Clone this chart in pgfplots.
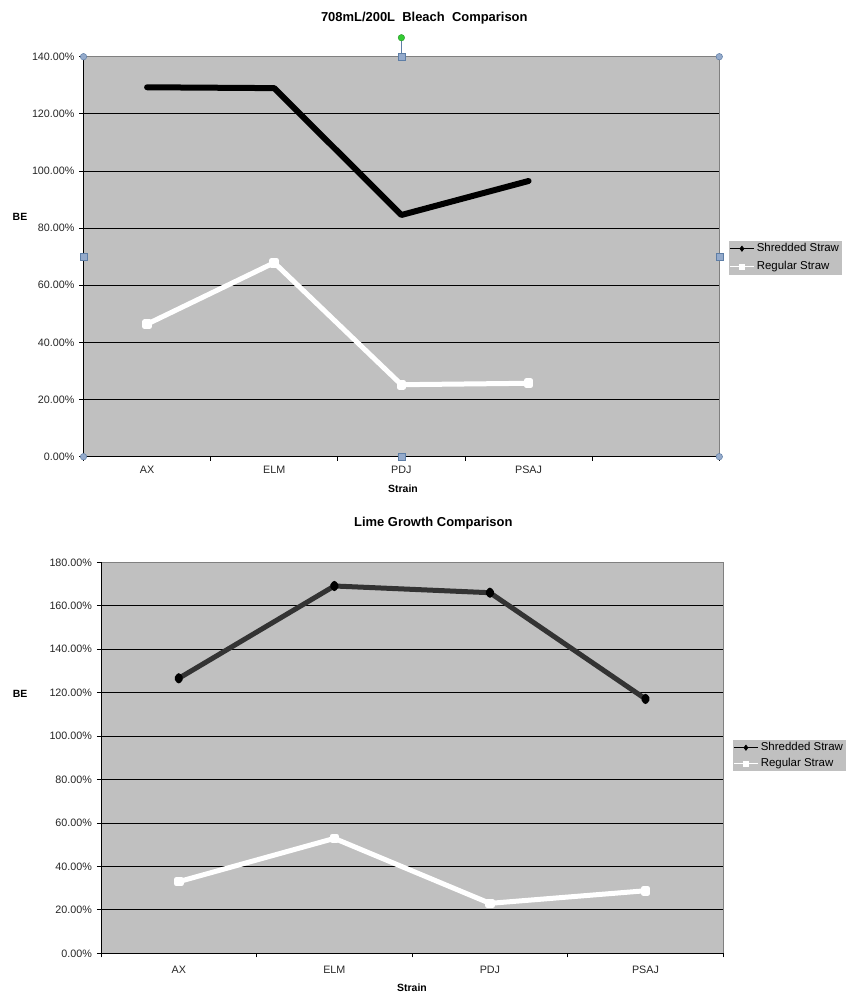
\documentclass[border=0pt]{standalone}
\usepackage{fontspec}
\setmainfont{Liberation Sans}
\usepackage{pgfplots}
\pgfplotsset{compat=1.18}
\definecolor{plotbg}{HTML}{C0C0C0}
\definecolor{bordergray}{HTML}{808080}
\definecolor{handlefill}{HTML}{94AACB}
\definecolor{handledraw}{HTML}{5E7EA6}
\definecolor{handlegreen}{HTML}{33CC33}
\definecolor{shredgray}{HTML}{333333}

\pgfplotsset{
  excelchart/.style={
    scale only axis,
    axis background/.style={fill=plotbg},
    axis line style={draw=none},
    x tick label as interval,
    xtick pos=bottom, ytick pos=left,
    tick align=outside,
    major tick length=4bp,
    tick style={black, line width=0.8bp},
    ymajorgrids,
    major grid style={black, line width=0.9bp},
    ticklabel style={font=\fontsize{10.8}{12}\selectfont, text=black!85},
    yticklabel style={xshift=-1.5bp},
    label style={font=\bfseries\fontsize{10.5}{12}\selectfont},
    title style={font=\bfseries\fontsize{13}{15}\selectfont, anchor=center, yshift=-7.8bp},
    clip=false,
    legend cell align=left,
    legend style={fill=plotbg, draw=none, anchor=north west,
      font=\fontsize{11.5}{13}\selectfont, inner xsep=1bp, inner ysep=2bp,
      nodes={inner ysep=0pt, inner xsep=2.5bp, text height=9bp, text depth=3bp},
      row sep=6bp},
    legend image code/.code={\draw[mark repeat=2,mark phase=2,#1] plot coordinates {(0bp,0bp) (12bp,0bp) (24bp,0bp)};},
  }
}

\begin{document}
\begin{tikzpicture}
\path[use as bounding box] (0,0) rectangle (854bp,-1006bp);

% ---------------- Top chart ----------------
\begin{axis}[excelchart, name=top,
  at={(83.5bp,-456.7bp)}, anchor=south west,
  width=635.8bp, height=400bp,
  xmin=-0.5, xmax=4.5, ymin=0, ymax=140,
  xtick={-0.5,0.5,1.5,2.5,3.5,4.5},
  xticklabels={AX,ELM,PDJ,PSAJ,,},
  xticklabel style={yshift=-2bp},
  ytick={0,20,40,60,80,100,120,140},
  yticklabels={0.00\%,20.00\%,40.00\%,60.00\%,80.00\%,100.00\%,120.00\%,140.00\%},
  title={708mL/200L\ \ Bleach\ \ Comparison},
  title style={at={(0.536,1.102)}},
  xlabel={Strain}, xlabel style={at={(0.5025,-0.081)}, anchor=center},
  ylabel={BE}, ylabel style={at={(-0.0999,0.599)}, rotate=-90, anchor=center},
  legend style={at={(1.0142,0.5405)}},
]
\addplot[black, line width=6bp, line join=round, line cap=round, mark=none, forget plot]
  coordinates {(0,129.3) (1,129.0) (2,84.6) (3,96.5)};
\addplot[white, line width=5bp, line join=round, mark=square*, mark size=2.3bp, mark options={solid,white}, forget plot]
  coordinates {(0,46.4) (1,67.9) (2,25.2) (3,25.7)};
\addlegendimage{black, line width=0.8bp, mark=diamond*, mark size=2.5bp, mark options={solid,black}}
\addlegendentry{Shredded Straw}
\addlegendimage{white, line width=0.8bp, mark=square*, mark size=2.5bp, mark options={solid,white}}
\addlegendentry{Regular Straw}
\draw[bordergray, line width=1bp] (rel axis cs:0,1) -- (rel axis cs:1,1) -- (rel axis cs:1,0);
\draw[black, line width=1bp] (rel axis cs:0,1) -- (rel axis cs:0,0) -- (rel axis cs:1,0);
\end{axis}

% selection handles of the top chart
\draw[handledraw, line width=0.6bp] (top.north) -- ([yshift=19bp]top.north);
\foreach \a in {north west, north east, south west, south east}
  \node[circle, draw=handledraw, fill=handlefill, minimum size=6.5bp, inner sep=0pt, line width=0.5bp] at (top.\a) {};
\foreach \a in {north, south, west, east}
  \node[draw=handledraw, fill=handlefill, minimum size=7bp, inner sep=0pt, line width=0.5bp] at (top.\a) {};
\node[circle, draw=handlegreen!70!black, fill=handlegreen, minimum size=6.5bp, inner sep=0pt, line width=0.4bp] at ([yshift=19bp]top.north) {};

% ---------------- Bottom chart ----------------
\begin{axis}[excelchart, name=bottom,
  at={(101bp,-953.3bp)}, anchor=south west,
  width=622.3bp, height=391bp,
  xmin=-0.5, xmax=3.5, ymin=0, ymax=180,
  xtick={-0.5,0.5,1.5,2.5,3.5},
  xticklabels={AX,ELM,PDJ,PSAJ,},
  xticklabel style={yshift=-5bp},
  ytick={0,20,40,60,80,100,120,140,160,180},
  yticklabels={0.00\%,20.00\%,40.00\%,60.00\%,80.00\%,100.00\%,120.00\%,140.00\%,160.00\%,180.00\%},
  title={Lime Growth Comparison},
  title style={at={(0.534,1.104)}},
  xlabel={Strain}, xlabel style={at={(0.4998,-0.0887)}, anchor=center},
  ylabel={BE}, ylabel style={at={(-0.130,0.663)}, rotate=-90, anchor=center},
  legend style={at={(1.0145,0.5455)}, nodes={text height=8.5bp, text depth=2.5bp}, row sep=5bp},
]
\addplot[shredgray, line width=5bp, line join=round, mark=diamond*, mark size=2.6bp, mark options={solid,black}, forget plot]
  coordinates {(0,126.6) (1,169.1) (2,166.0) (3,117.1)};
\addplot[white, line width=5bp, line join=round, mark=square*, mark size=2.3bp, mark options={solid,white}, forget plot]
  coordinates {(0,33.0) (1,52.9) (2,23.0) (3,28.8)};
\addlegendimage{black, line width=0.8bp, mark=diamond*, mark size=2.5bp, mark options={solid,black}}
\addlegendentry{Shredded Straw}
\addlegendimage{white, line width=0.8bp, mark=square*, mark size=2.5bp, mark options={solid,white}}
\addlegendentry{Regular Straw}
\draw[bordergray, line width=1bp] (rel axis cs:0,1) -- (rel axis cs:1,1) -- (rel axis cs:1,0);
\draw[black, line width=1bp] (rel axis cs:0,1) -- (rel axis cs:0,0) -- (rel axis cs:1,0);
\end{axis}
\end{tikzpicture}
\end{document}
